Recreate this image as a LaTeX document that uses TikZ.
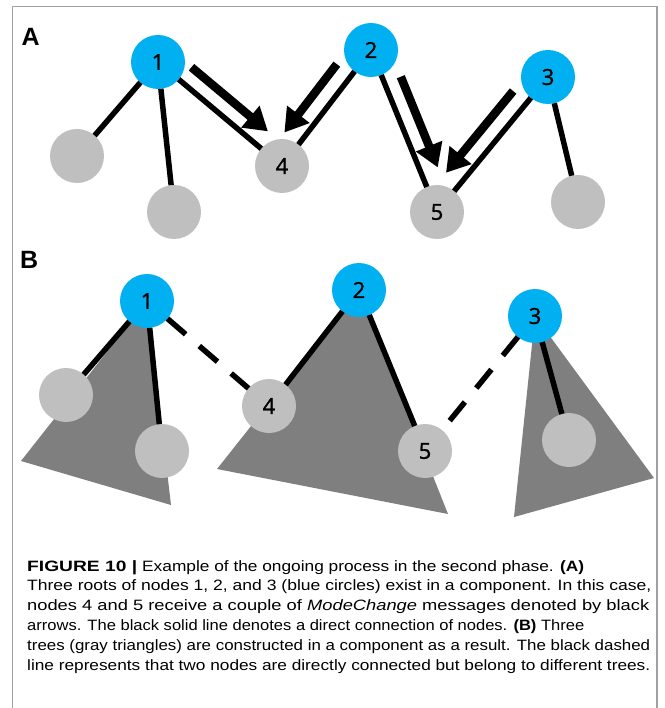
\documentclass[tikz,border=0pt]{standalone}
\usepackage{fontspec}
\usepackage{graphicx}
\setmainfont{Liberation Sans}
\newfontfamily\numfont[FakeBold=1.2]{Open Sans}
\usetikzlibrary{arrows.meta,calc,backgrounds}
\definecolor{rootblue}{HTML}{00B0F0}
\definecolor{leafgray}{HTML}{BFBFBF}
\definecolor{treegray}{HTML}{7F7F7F}
\definecolor{framegray}{HTML}{A0A0A0}

\begin{document}
\begin{tikzpicture}[x=1pt,y=-1pt,
  vertex/.style={circle,minimum size=54pt,inner sep=0pt,outer sep=0pt,
    font=\numfont\fontsize{22}{22}\selectfont},
  root/.style={vertex,fill=rootblue},
  leaf/.style={vertex,fill=leafgray},
  link/.style={line width=5.5pt},
  dashlink/.style={line width=5.5pt,dash pattern=on 24pt off 18pt},
  msg/.style={line width=8.5pt,-{Triangle[length=23pt,width=27pt]}},
  tree/.style={fill=treegray},
  panel/.style={font=\bfseries\fontsize{25}{25}\selectfont,anchor=base west,inner sep=0pt},
  capline/.style={anchor=base west,inner sep=0pt,font=\fontsize{15}{20}\selectfont}]
\useasboundingbox (0,0) rectangle (664,708);

% frame
\draw[framegray,line width=1.5pt] (12.5,708) -- (12.5,6.5) -- (657,6.5) -- (657,708);

% ---------- panel A ----------
\node[panel] (labA) at (21.5,46) {A};
\node[root] (a1) at (158,62) {1};
\node[root] (a2) at (371,50) {2};
\node[root] (a3) at (548,77) {3};
\node[leaf] (a4) at (282,166) {4};
\node[leaf] (a5) at (437,212) {5};
\node[leaf] (al1) at (77,156) {};
\node[leaf] (al2) at (174,212) {};
\node[leaf] (al3) at (578,202) {};

\draw[link] (a1) -- (al1);
\draw[link] (a1) -- (al2);
\draw[link] (a1) -- (a4);
\draw[link] (a2) -- (a4);
\draw[link] (a2) -- (a5);
\draw[link] (a3) -- (a5);
\draw[link] (a3) -- (al3);

% ModeChange messages, drawn beside the links
\draw[msg] ($($(a1)!29pt!(a4)$)!17.5pt!90:(a4)$) -- ($($(a4)!33pt!(a1)$)!17.5pt!-90:(a1)$);
\draw[msg] ($($(a2)!32pt!(a4)$)!18.5pt!-90:(a4)$) -- ($($(a4)!28pt!(a2)$)!18.5pt!90:(a2)$);
\draw[msg] ($($(a2)!36pt!(a5)$)!17.5pt!90:(a5)$) -- ($($(a5)!41pt!(a2)$)!17.5pt!-90:(a2)$);
\draw[msg] ($($(a3)!33pt!(a5)$)!18pt!-90:(a5)$) -- ($($(a5)!36pt!(a3)$)!18pt!90:(a3)$);

% ---------- panel B ----------
\node[panel] (labB) at (20,268) {B};
\node[root] (b1) at (147,301) {1};
\node[root] (b2) at (359,290) {2};
\node[root] (b3) at (535,316) {3};
\node[leaf] (b4) at (269,406) {4};
\node[leaf] (b5) at (425,451) {5};
\node[leaf] (bl1) at (66,395) {};
\node[leaf] (bl2) at (162,451) {};
\node[leaf] (bl3) at (569,440) {};

\draw[link] (b1) -- (bl1);
\draw[link] (b1) -- (bl2);
\draw[link] (b2) -- (b4);
\draw[link] (b2) -- (b5);
\draw[link] (b3) -- (bl3);
\draw[dashlink] (b1) -- (b4);
\draw[dashlink] (b3) -- (b5);

% trees
\begin{scope}[on background layer]
  \fill[tree] (b1.center) -- (21,461) -- (171,505) -- cycle;
  \fill[tree] (b2.center) -- (217,469) -- (448,514) -- cycle;
  \fill[tree] (b3.center) -- (514,517) -- (654,478) -- cycle;
\end{scope}

% ---------- caption ----------
\node[capline] (c1a) at (27,571) {\resizebox{110pt}{\height}{\textbf{FIGURE 10 |}}};
\node[capline] (c1b) at (142,571) {\resizebox{442pt}{\height}{Example of the ongoing process in the second phase. \textbf{(A)}}};
\node[capline] (c2) at (27,590.8) {\resizebox{624pt}{\height}{Three roots of nodes 1, 2, and 3 (blue circles) exist in a component. In this case,}};
\node[capline] (c3) at (27,610.6) {\resizebox{622pt}{\height}{nodes 4 and 5 receive a couple of \textit{ModeChange} messages denoted by black}};
\node[capline] (c4) at (27,630.4) {\resizebox{557pt}{\height}{arrows. The black solid line denotes a direct connection of nodes. \textbf{(B)} Three}};
\node[capline] (c5) at (27,650.2) {\resizebox{623pt}{\height}{trees (gray triangles) are constructed in a component as a result. The black dashed}};
\node[capline] (c6) at (27,670) {\resizebox{623pt}{\height}{line represents that two nodes are directly connected but belong to different trees.}};
\end{tikzpicture}
\end{document}
